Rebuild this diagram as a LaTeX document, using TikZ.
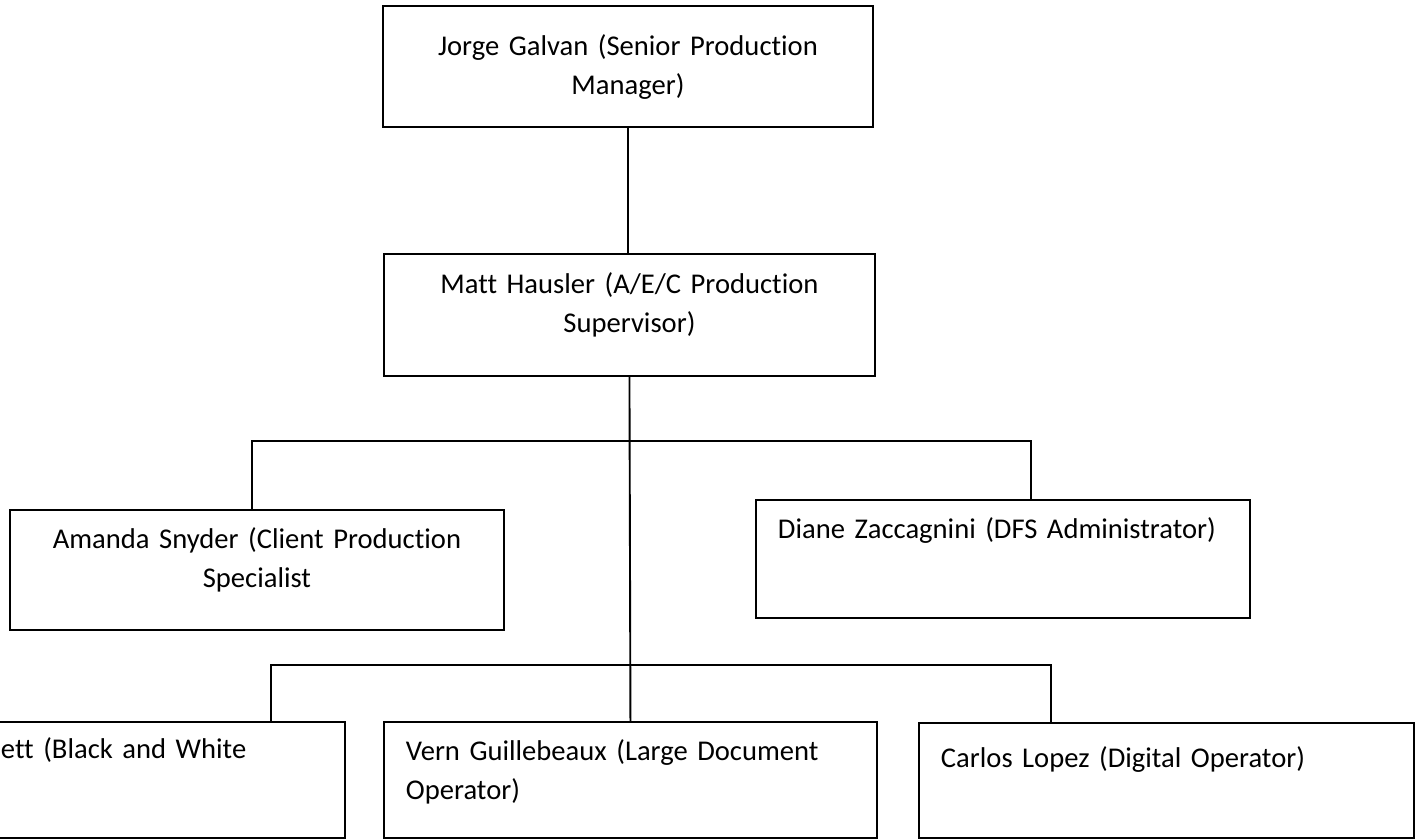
\documentclass[tikz,border=0pt]{standalone}
\usepackage{fontspec}
\setmainfont{Carlito}[Ligatures={NoCommon}]
\tikzset{
  box/.style={draw, line width=1.9pt, rectangle, inner sep=0pt, anchor=north west,
    font=\fontsize{28.6}{39}\selectfont},
  cbox/.style={box, align=center},
  lbox/.style={box, align=left, inner xsep=22pt},
  link/.style={line width=1.9pt}
}
\begin{document}
\begin{tikzpicture}[x=1pt,y=-1pt]
\useasboundingbox (0,0) rectangle (1421,839);
\clip (0,0) rectangle (1421,839);
% boxes
\node[cbox, text width=490pt, text height=50pt, text depth=71pt] (jorge) at (382,5)
  {Jorge Galvan (Senior Production\\Manager)};
\node[cbox, text width=491pt, text height=40pt, text depth=82pt] (matt) at (383,253)
  {Matt Hausler (A/E/C Production\\Supervisor)};
\node[cbox, text width=494pt, text height=39pt, text depth=81pt] (amanda) at (9,509)
  {Amanda Snyder (Client Production\\Specialist};
\node[lbox, text width=450pt, text height=39pt, text depth=79pt] (diane) at (755,499)
  {Diane Zaccagnini (DFS Administrator)};
\node[lbox, text width=322pt, text height=37pt, text depth=79pt] (bw) at (-22,721)
  {ett (Black and White};
\node[lbox, text width=449pt, text height=39pt, text depth=77pt] (vern) at (383,721)
  {Vern Guillebeaux (Large Document\\Operator)};
\node[lbox, text width=451pt, text height=45pt, text depth=70pt] (carlos) at (918,722)
  {Carlos Lopez (Digital Operator)};
% bus points
\coordinate (a1) at (252,441);
\coordinate (d1) at (1031,441);
\coordinate (l2) at (271,665);
\coordinate (c2) at (1051,665);
% connectors
\draw[link] (jorge.south) -- (jorge.south |- matt.north);
\draw[link] (matt.south) -- (vern.north);
\draw[link] (a1 |- amanda.north) -- (a1) -- (d1) -- (d1 |- diane.north);
\draw[link] (l2 |- bw.north) -- (l2) -- (c2) -- (c2 |- carlos.north);
\end{tikzpicture}
\end{document}
